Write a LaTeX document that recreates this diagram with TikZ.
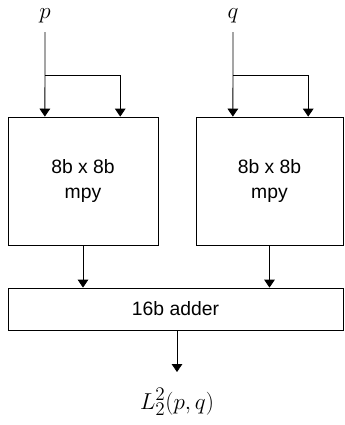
\documentclass[tikz,border=0pt]{standalone}
\usepackage{fontspec}
\setsansfont{Liberation Sans}
\usetikzlibrary{arrows.meta, positioning, calc}
\tikzstyle{block} = [rectangle, draw, text centered, align=center, line width=0.6pt, font=\sffamily\fontsize{14.5}{19}\selectfont]
\tikzstyle{sig} = [line width=0.6pt, -{Triangle[width=8pt, length=6pt]}]
\tikzstyle{var} = [inner sep=0pt, font=\fontsize{19}{22}\selectfont]

\begin{document}
\begin{tikzpicture}[x=0.75pt, y=-0.75pt]
	\useasboundingbox (0,0) rectangle (344,425);

	% Multipliers and adder
	\node (lmul) [block, minimum width=150*0.75pt, minimum height=128*0.75pt] at (83,181) {8b x 8b\\mpy};
	\node (rmul) [block, minimum width=147*0.75pt, minimum height=128*0.75pt] at (269.5,181) {8b x 8b\\mpy};
	\node (adder) [block, minimum width=335*0.75pt, minimum height=42*0.75pt] at (175.5,309) {16b adder};

	% Inputs and output
	\node (p) [var] at (45,16) {$p$};
	\node (q) [var] at (233,16) {$q$};
	\node (out) [var] at (177,402) {$L_2^2(p,q)$};

	% Fan-out points
	\coordinate (pin) at (45,32);
	\coordinate (qin) at (233,32);
	\coordinate (lin1) at ($(lmul.north west)!0.247!(lmul.north east)$);
	\coordinate (lin2) at ($(lmul.north west)!0.747!(lmul.north east)$);
	\coordinate (rin1) at ($(rmul.north west)!0.252!(rmul.north east)$);
	\coordinate (rin2) at ($(rmul.north west)!0.762!(rmul.north east)$);
	\coordinate (pfork) at (45,75);
	\coordinate (qfork) at (233,75);
	\coordinate (sumout) at (177,372);

	% Arrows - inputs
	\draw[sig] (pin) -- (lin1);
	\draw[sig] (pfork) -| (lin2);
	\draw[sig] (qin) -- (rin1);
	\draw[sig] (qfork) -| (rin2);

	% Arrows - products and sum
	\draw[sig] (lmul.south) -- (lmul.south |- adder.north);
	\draw[sig] (rmul.south) -- (rmul.south |- adder.north);
	\draw[sig] (adder.south -| sumout) -- (sumout);

\end{tikzpicture}
\end{document}
